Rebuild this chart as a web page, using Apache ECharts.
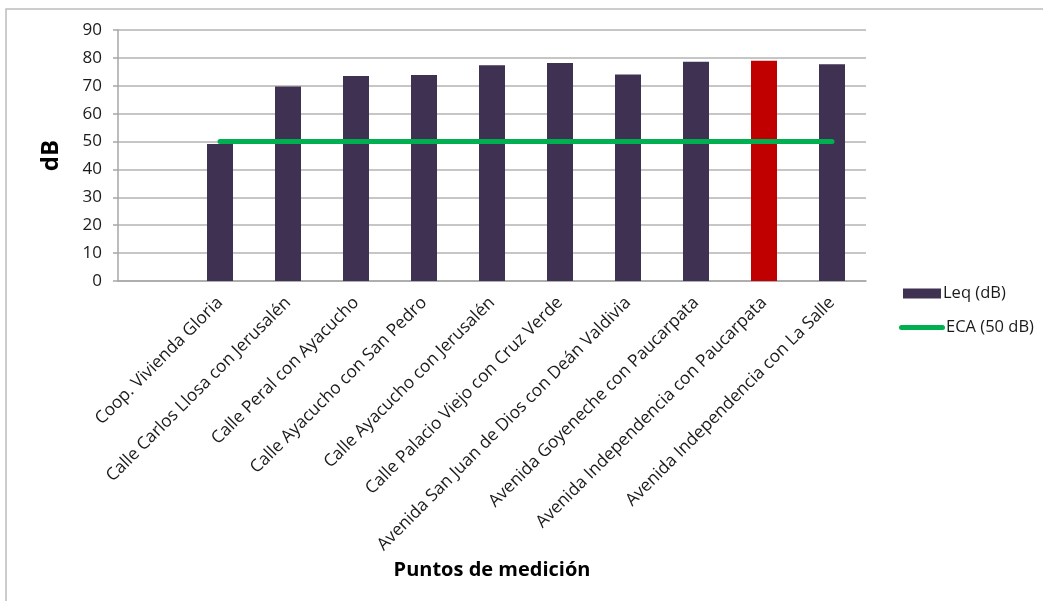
<!DOCTYPE html>
<html>
<head>
<meta charset="utf-8">
<script src="https://cdn.jsdelivr.net/npm/echarts@6/dist/echarts.min.js"></script>
<style>html,body{margin:0;padding:0;background:#fff}#c{width:1043px;height:601px}</style>
</head>
<body>
<div id="c"></div>
<script>
const categories = ['', 'Coop. Vivienda Gloria', 'Calle Carlos Llosa con Jerusalén', 'Calle Peral con Ayacucho', 'Calle Ayacucho con San Pedro', 'Calle Ayacucho con Jerusalén', 'Calle Palacio Viejo con Cruz Verde', 'Avenida San Juan de Dios con Deán Valdivia', 'Avenida Goyeneche con Paucarpata', 'Avenida Independencia con Paucarpata', 'Avenida Independencia con La Salle'];
const leqValues = [null, 49.1, 69.7, 73.5, 73.9, 77.4, 78.2, 74.0, 78.6, 79.0, 77.7];
const ecaValues = [null, 50, 50, 50, 50, 50, 50, 50, 50, 50, 50];
const highlightIndex = 9;
const yTicks = {min: 0, max: 90, interval: 10};

const FONT = 'Open Sans';
const chart = echarts.init(document.getElementById('c'));
chart.setOption({
  animation: false,
  textStyle: {fontFamily: FONT},
  graphic: [{
    type: 'polyline', silent: true,
    shape: {points: [[6, 601], [6, 9], [1043, 9]]},
    style: {stroke: '#bdbdbd', lineWidth: 1.5, fill: null}
  }],
  grid: {left: 118, right: 177, top: 30, bottom: 320, containLabel: false},
  legend: [{
    orient: 'vertical', left: 898, top: 280,
    itemWidth: 38, itemHeight: 10,
    textStyle: {fontFamily: FONT, fontSize: 16.5, color: '#1a1a1a', padding: [0, 0, 0, -3]},
    data: [{name: 'Leq (dB)', icon: 'rect'}]
  }, {
    orient: 'vertical', left: 894, top: 314,
    itemWidth: 46, itemHeight: 5,
    textStyle: {fontFamily: FONT, fontSize: 16.5, color: '#1a1a1a', padding: [0, 0, 0, -4]},
    data: [{name: 'ECA (50 dB)', icon: 'path://M2.5,0 H43.5 A2.5,2.5 0 0 1 43.5,5 H2.5 A2.5,2.5 0 0 1 2.5,0 Z', itemStyle: {color: '#00b050'}}]
  }],
  xAxis: {
    type: 'category', data: categories,
    name: 'Puntos de medición', nameLocation: 'middle', nameGap: 279,
    nameTextStyle: {fontFamily: FONT, fontWeight: 'bold', fontSize: 20, color: '#000'},
    axisLine: {lineStyle: {color: '#a6a6a6', width: 1.5}},
    axisTick: {show: false},
    axisLabel: {interval: 0, rotate: 45, fontSize: 17.3, color: '#1a1a1a', margin: 19, fontFamily: FONT}
  },
  yAxis: {
    type: 'value', min: yTicks.min, max: yTicks.max, interval: yTicks.interval,
    name: 'dB', nameLocation: 'middle', nameGap: 55, nameRotate: 90,
    nameTextStyle: {fontFamily: FONT, fontWeight: 'bold', fontSize: 24, color: '#000'},
    axisLine: {show: true, lineStyle: {color: '#a6a6a6', width: 1.5}},
    axisTick: {show: true, length: 5, lineStyle: {color: '#a6a6a6', width: 1.5}},
    splitLine: {lineStyle: {color: '#b3b3b3', width: 1.5}},
    axisLabel: {fontSize: 17, color: '#1a1a1a', margin: 16, fontFamily: FONT}
  },
  series: [{
    name: 'Leq (dB)', type: 'bar', barWidth: 26,
    itemStyle: {color: '#3f3151'},
    data: leqValues.map((v, i) => i === highlightIndex ? {value: v, itemStyle: {color: '#c00000'}} : v)
  }, {
    name: 'ECA (50 dB)', type: 'line', symbol: 'none', z: 5,
    lineStyle: {color: '#00b050', width: 5, cap: 'round'},
    itemStyle: {color: '#00b050'},
    data: ecaValues
  }]
});
</script>
</body>
</html>
